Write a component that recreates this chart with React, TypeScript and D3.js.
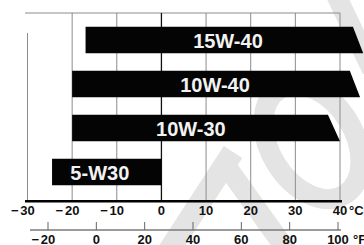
import React from "react";
import * as d3 from "d3";

// ---- data ----
const grades = ["15W-40", "10W-40", "10W-30", "5-W30"];
const lowC = [-17, -20, -20, -24.5];
const highTopC = [42.9, 42.2, 37.3, 0];
const highBottomC = [45.2, 44.5, 40, 0];
const labelAtC = [14.9, 12, 6.6, -13.8];
const celsiusTicks = [-30, -20, -10, 0, 10, 20, 30, 40];
const gridTicks = [-20, -10, 0, 10, 20, 30, 40];
const fahrenheitTicks = [-20, 0, 20, 40, 60, 80, 100];

const W = 364;
const H = 245;
const FONT = "'Liberation Sans', Arial, Helvetica, sans-serif";

export default function App() {
  const x = d3.scaleLinear().domain([-30, 40]).range([27.5, 340]);
  const xF = d3.scaleLinear().domain([-20, 100]).range([48, 338]);
  const y = d3
    .scaleBand<string>()
    .domain(grades)
    .range([18, 194])
    .paddingInner(0.4)
    .paddingOuter(0.2);

  const axisY = 201.3;
  const fAxisY = 230;
  const topY = 13;
  const grey = "#8c8c8c";
  const wm = "#e4e4e4";

  const minus = "\u2212";
  const fLabelY = 244;

  return (
    <svg
      width={W}
      height={H}
      style={{ position: "absolute", left: 0, top: 0, background: "#fff" }}
      fontFamily={FONT}
    >
      {/* faint watermark */}
      <g fill="none" stroke={wm} strokeLinecap="butt">
        <line x1={168} y1={252} x2={233} y2={152} strokeWidth={22} />
        <line x1={222} y1={160} x2={290} y2={255} strokeWidth={20} />
        <ellipse
          cx={312}
          cy={142}
          rx={62}
          ry={42}
          transform="rotate(58 312 142)"
          strokeWidth={20}
        />
        <line x1={336} y1={-5} x2={372} y2={70} strokeWidth={20} />
      </g>

      {/* frame */}
      <line x1={25} x2={x(40)} y1={topY} y2={topY} stroke={grey} strokeWidth={1} />
      <line x1={x(-30)} x2={x(-30)} y1={33} y2={axisY} stroke={grey} strokeWidth={1} />
      {gridTicks.map((t) => (
        <line
          key={t}
          x1={x(t)}
          x2={x(t)}
          y1={topY}
          y2={axisY}
          stroke={t === 0 ? "#111" : grey}
          strokeWidth={t === 0 ? 1.3 : 1}
        />
      ))}

      {/* bars */}
      {grades.map((g, i) => {
        const top = y(g)!;
        const bot = top + y.bandwidth();
        const p = d3.path();
        p.moveTo(x(lowC[i]), top);
        p.lineTo(x(highTopC[i]), top);
        p.lineTo(x(highBottomC[i]), bot);
        p.lineTo(x(lowC[i]), bot);
        p.closePath();
        return (
          <g key={g}>
            <path d={p.toString()} fill="#040404" />
            <text
              x={x(labelAtC[i])}
              y={top + y.bandwidth() / 2 + 1}
              textAnchor="middle"
              dominantBaseline="central"
              fill="#f2f2f2"
              fontWeight="bold"
              fontSize={20}
            >
              {g}
            </text>
          </g>
        );
      })}

      {/* Celsius axis */}
      <line x1={25} x2={342} y1={axisY} y2={axisY} stroke="#000" strokeWidth={2.4} />
      {celsiusTicks.map((t) => (
        <g key={t} fontWeight="bold" fontSize={13} fill="#111">
          <text x={x(t)} y={215} textAnchor="middle">
            {Math.abs(t)}
          </text>
          {t < 0 && (
            <text x={x(t) - 9} y={215} textAnchor="end">
              {minus}
            </text>
          )}
        </g>
      ))}
      <text x={349} y={215} fontWeight="bold" fontSize={13} fill="#111">
        °C
      </text>

      {/* Fahrenheit axis */}
      <line x1={30} x2={341} y1={fAxisY} y2={fAxisY} stroke="#7a7a7a" strokeWidth={1.5} />
      {fahrenheitTicks.map((t) => (
        <g key={t}>
          <line x1={xF(t)} x2={xF(t)} y1={fAxisY - 8} y2={fAxisY} stroke="#666" strokeWidth={1} />
          <text
            x={xF(t)}
            y={fLabelY}
            textAnchor="middle"
            fontWeight="bold"
            fontSize={13}
            fill="#111"
          >
            {Math.abs(t)}
          </text>
          {t < 0 && (
            <text x={xF(t) - 9} y={fLabelY} textAnchor="end" fontWeight="bold" fontSize={13} fill="#111">
              {minus}
            </text>
          )}
        </g>
      ))}
      <text x={353} y={fLabelY} fontWeight="bold" fontSize={13} fill="#111">
        °F
      </text>
    </svg>
  );
}
